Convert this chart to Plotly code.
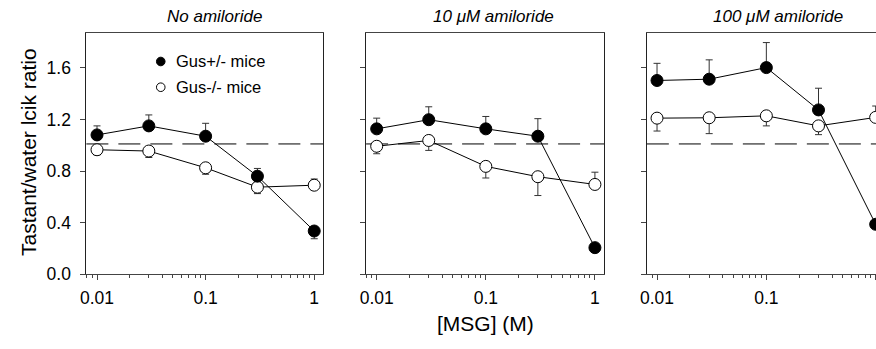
import plotly.graph_objects as go

# ---------------- data ----------------
msg_conc = [0.01, 0.03, 0.1, 0.3, 1.0]
panel_titles = ["No amiloride", "10 \u03bcM amiloride", "100 \u03bcM amiloride"]

het_no = [1.08, 1.15, 1.07, 0.76, 0.335]
het_no_up = [0.07, 0.085, 0.10, 0.06, 0.0]
het_no_dn = [0.0, 0.0, 0.0, 0.0, 0.06]
ko_no = [0.965, 0.955, 0.825, 0.675, 0.69]
ko_no_up = [0.0, 0.0, 0.0, 0.0, 0.048]
ko_no_dn = [0.04, 0.05, 0.05, 0.05, 0.0]

het_10 = [1.127, 1.198, 1.127, 1.07, 0.206]
het_10_up = [0.083, 0.10, 0.096, 0.136, 0.0]
het_10_dn = [0.0, 0.0, 0.0, 0.0, 0.0]
ko_10 = [0.992, 1.037, 0.836, 0.756, 0.696]
ko_10_up = [0.0, 0.0, 0.0, 0.0, 0.095]
ko_10_dn = [0.058, 0.077, 0.09, 0.146, 0.0]

het_100 = [1.502, 1.512, 1.602, 1.274, 0.387]
het_100_up = [0.133, 0.15, 0.194, 0.168, 0.0]
het_100_dn = [0.0, 0.0, 0.0, 0.0, 0.0]
ko_100 = [1.21, 1.213, 1.228, 1.15, 1.216]
ko_100_up = [0.0, 0.0, 0.0, 0.0, 0.088]
ko_100_dn = [0.10, 0.123, 0.078, 0.068, 0.0]

ref_line = 1.01
y_ticks = [0.0, 0.4, 0.8, 1.2, 1.6]
y_tick_text = ["0.0", "0.4", "0.8", "1.2", "1.6"]
x_ticks = [0.01, 0.1, 1]
x_tick_text = ["0.01", "0.1", "1"]
legend_labels = ["Gus+/- mice", "Gus-/- mice"]

# ---------------- layout geometry ----------------
W, H = 876, 349
FONT = "Liberation Sans, Arial, sans-serif"
px_x = lambda p: p / W
px_y = lambda p: (H - p) / H

panels = [
    dict(dom=(80, 319), rng=(-2.098, 0.085), mirror_y=True),
    dict(dom=(362, 602), rng=(-2.097, 0.085), mirror_y=True),
    dict(dom=(645, 876), rng=(-2.093, 0.003), mirror_y=False),
]
ydom = (px_y(282.3), px_y(34))

series = [
    (het_no, het_no_up, het_no_dn, ko_no, ko_no_up, ko_no_dn),
    (het_10, het_10_up, het_10_dn, ko_10, ko_10_up, ko_10_dn),
    (het_100, het_100_up, het_100_dn, ko_100, ko_100_up, ko_100_dn),
]

fig = go.Figure()
LINE_C = "#000000"
ERR_C = "#333333"
AX_C = "#444444"

for i, (p, s) in enumerate(zip(panels, series)):
    xa = "x" if i == 0 else f"x{i+1}"
    ya = "y" if i == 0 else f"y{i+1}"
    het, hu, hd, ko, ku, kd = s
    fig.add_shape(type="line", xref=f"{xa} domain", yref=ya, x0=0, x1=1,
                  y0=ref_line, y1=ref_line,
                  line=dict(color="#000000", width=1, dash="22px,10px"), layer="below")
    fig.add_trace(go.Scatter(
        x=msg_conc, y=ko, xaxis=xa, yaxis=ya, mode="lines+markers",
        line=dict(color=LINE_C, width=1),
        marker=dict(symbol="circle", size=12, color="white",
                    line=dict(color="black", width=1)),
        error_y=dict(type="data", symmetric=False, array=ku, arrayminus=kd,
                     color=ERR_C, thickness=1, width=3.5),
        showlegend=False, name=legend_labels[1]))
    fig.add_trace(go.Scatter(
        x=msg_conc, y=het, xaxis=xa, yaxis=ya, mode="lines+markers",
        line=dict(color=LINE_C, width=1),
        marker=dict(symbol="circle", size=12, color="black",
                    line=dict(color="black", width=1)),
        error_y=dict(type="data", symmetric=False, array=hu, arrayminus=hd,
                     color=ERR_C, thickness=1, width=3.5),
        showlegend=False, name=legend_labels[0]))

    xkey = "xaxis" if i == 0 else f"xaxis{i+1}"
    ykey = "yaxis" if i == 0 else f"yaxis{i+1}"
    fig.layout[xkey] = dict(
        type="log", domain=[px_x(p["dom"][0]), px_x(p["dom"][1])],
        range=list(p["rng"]), anchor=ya,
        tickvals=x_ticks, ticktext=x_tick_text,
        ticks="outside", ticklen=5, tickwidth=1, tickcolor=AX_C,
        showline=True, linecolor=AX_C, linewidth=1, mirror=True,
        showgrid=False, zeroline=False, ticklabelstandoff=3,
        tickfont=dict(family=FONT, size=17.5, color="black"),
        minor=dict(ticks="outside", ticklen=2.5, tickwidth=1, tickcolor=AX_C,
                   dtick="D1", showgrid=False),
    )
    fig.layout[ykey] = dict(
        domain=list(ydom), range=[0, 1.87], anchor=xa,
        tickvals=y_ticks, ticktext=y_tick_text if i == 0 else [""] * len(y_ticks),
        showticklabels=(i == 0),
        ticks="outside", ticklen=5, tickwidth=1, tickcolor=AX_C,
        showline=True, linecolor="#222222", linewidth=1, mirror=p["mirror_y"],
        showgrid=False, zeroline=False, ticklabelstandoff=6,
        tickfont=dict(family=FONT, size=17.5, color="black"),
    )

annotations = []
title_x = [209.5, 490.8, 777.5]
for t, tx in zip(panel_titles, title_x):
    annotations.append(dict(text=f"<i>{t}</i>", xref="paper", yref="paper",
                            x=px_x(tx), y=px_y(17.5), xanchor="center", yanchor="middle",
                            showarrow=False, font=dict(family=FONT, size=17, color="black")))
annotations.append(dict(text="[MSG] (M)", xref="paper", yref="paper",
                        x=px_x(482), y=px_y(333), xanchor="center", yanchor="middle",
                        showarrow=False, font=dict(family=FONT, size=21, color="black")))
annotations.append(dict(text="Tastant/water lcik ratio", xref="paper", yref="paper",
                        x=px_x(21.7), y=px_y(157), xanchor="center", yanchor="middle",
                        textangle=-90, showarrow=False,
                        font=dict(family=FONT, size=21, color="black")))
leg_rows = [(63.3, "black"), (89.8, "white")]
for (ly, fillc), lab in zip(leg_rows, legend_labels):
    fig.add_shape(type="circle", xref="paper", yref="paper",
                  xsizemode="pixel", ysizemode="pixel",
                  xanchor=px_x(155), yanchor=px_y(ly),
                  x0=-4.3, x1=4.3, y0=-4.3, y1=4.3,
                  fillcolor=fillc, line=dict(color="black", width=1))
    annotations.append(dict(text=lab, xref="paper", yref="paper",
                            x=px_x(168), y=px_y(ly), xanchor="left", yanchor="middle",
                            showarrow=False, font=dict(family=FONT, size=16.5, color="black")))

fig.update_layout(
    width=W, height=H, margin=dict(l=0, r=0, t=0, b=0),
    paper_bgcolor="white", plot_bgcolor="white",
    annotations=annotations, showlegend=False,
)

fig.write_html("out.html")
